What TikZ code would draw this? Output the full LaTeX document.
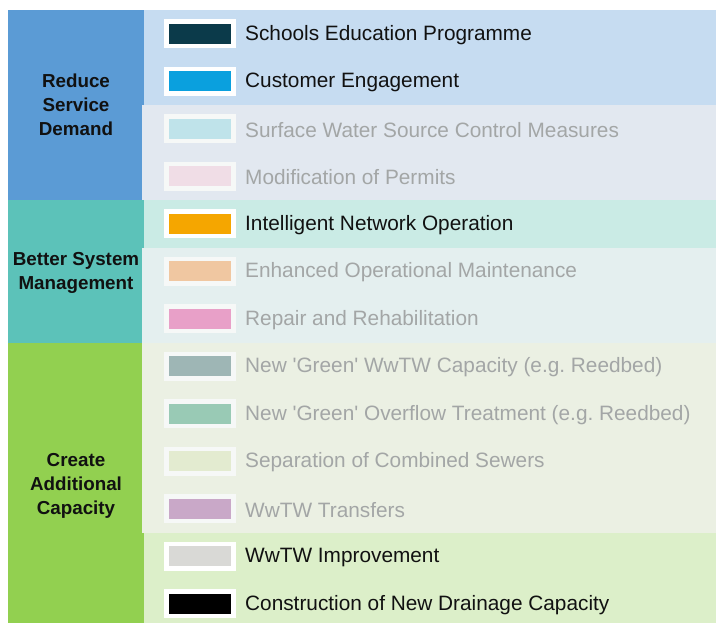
\documentclass[tikz,border=0pt]{standalone}
\usepackage{fontspec}
\setmainfont{Liberation Sans}[Ligatures=TeXOff]
\frenchspacing
\definecolor{grpblue}{HTML}{5B9BD5}
\definecolor{grpteal}{HTML}{5CC2B9}
\definecolor{grpgreen}{HTML}{92D050}
\definecolor{bgA}{HTML}{C6DCF1}
\definecolor{bgB}{HTML}{E2E8F0}
\definecolor{bgC}{HTML}{CAEBE5}
\definecolor{bgD}{HTML}{E4EFEF}
\definecolor{bgE}{HTML}{EBF0E3}
\definecolor{bgF}{HTML}{DCEFC9}
\definecolor{c1}{HTML}{0B3A4A}
\definecolor{c2}{HTML}{0AA0DE}
\definecolor{c3}{HTML}{BFE3EA}
\definecolor{c4}{HTML}{F0DDE6}
\definecolor{c5}{HTML}{F5A600}
\definecolor{c6}{HTML}{F0C7A1}
\definecolor{c7}{HTML}{E8A0C8}
\definecolor{c8}{HTML}{9EB6B5}
\definecolor{c9}{HTML}{99CAB5}
\definecolor{c10}{HTML}{E3EBD0}
\definecolor{c11}{HTML}{C9A8C8}
\definecolor{c12}{HTML}{D9D9D6}
\definecolor{c13}{HTML}{000000}
\definecolor{fadetext}{HTML}{A3A6A6}
\definecolor{darktext}{HTML}{111111}
\definecolor{fadeframe}{HTML}{F6F8F7}
\begin{document}
\begin{tikzpicture}[x=1pt,y=-1pt,
  grouplabel/.style={align=center,font=\bfseries\fontsize{18.8}{24}\selectfont,text=darktext,inner sep=0pt},
  itemtext/.style={anchor=west,inner sep=0pt,font=\fontsize{20.8}{24}\selectfont},
  swframe/.style={fill=white,minimum width=72pt,minimum height=29pt,inner sep=0pt},
  swfill/.style={minimum width=62pt,minimum height=20pt,inner sep=0pt}]
\useasboundingbox (0,0) rectangle (718,623);
% group bars
\fill[grpblue] (8,10) rectangle (144,200);
\fill[grpteal] (8,200) rectangle (144,342.5);
\fill[grpgreen] (8,342.5) rectangle (144,623);
% row backgrounds
\fill[bgA] (144,10) rectangle (716,105);
\fill[bgB] (142,105) rectangle (716,200);
\fill[bgC] (144,200) rectangle (716,247.5);
\fill[bgD] (142,247.5) rectangle (716,342.5);
\fill[bgE] (142,342.5) rectangle (716,532.5);
\fill[bgF] (144,532.5) rectangle (716,623);
% group labels
\node[grouplabel] (grp1) at (76,105) {Reduce\\Service\\Demand};
\node[grouplabel] (grp2) at (76,273) {Better System\\Management};
\node[grouplabel] (grp3) at (76,486) {Create\\Additional\\Capacity};
% items
\foreach \i/\fr/\tc/\txt in {
  1/white/darktext/{Schools Education Programme},
  2/white/darktext/{Customer Engagement},
  3/fadeframe/fadetext/{Surface Water Source Control Measures},
  4/fadeframe/fadetext/{Modification of Permits},
  5/white/darktext/{Intelligent Network Operation},
  6/fadeframe/fadetext/{Enhanced Operational Maintenance},
  7/fadeframe/fadetext/{Repair and Rehabilitation},
  8/fadeframe/fadetext/{New 'Green' WwTW Capacity (e.g. Reedbed)},
  9/fadeframe/fadetext/{New 'Green' Overflow Treatment (e.g. Reedbed)},
  10/fadeframe/fadetext/{Separation of Combined Sewers},
  11/fadeframe/fadetext/{WwTW Transfers},
  12/white/darktext/{WwTW Improvement},
  13/white/darktext/{Construction of New Drainage Capacity}}{
  \pgfmathsetmacro{\yy}{33.75+47.5*(\i-1)}
  \node[swframe,fill=\fr] (frame\i) at (200,\yy) {};
  \node[swfill,fill=c\i] (sw\i) at (frame\i.center) {};
  \node[itemtext,text=\tc] (lbl\i) at (245,\yy+1) {\txt};
}
\end{tikzpicture}
\end{document}
